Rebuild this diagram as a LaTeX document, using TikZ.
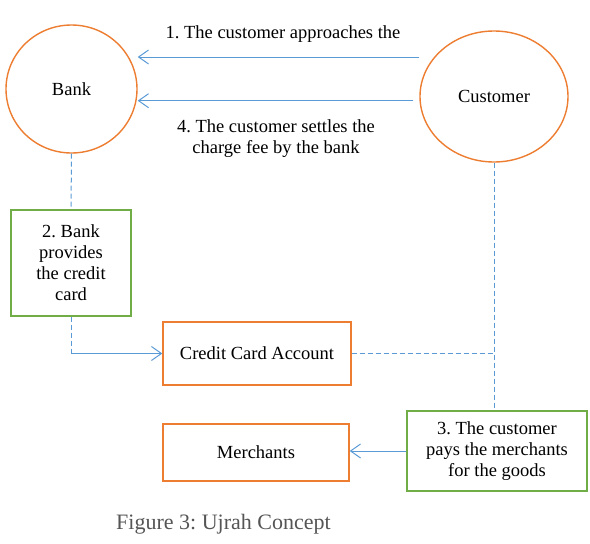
\documentclass[tikz,border=0pt]{standalone}
\usepackage{fontspec}
\setmainfont{Liberation Serif}
\usetikzlibrary{shapes.geometric,arrows.meta}
\definecolor{orng}{HTML}{ED7D31}
\definecolor{grn}{HTML}{70AD47}
\definecolor{blu}{HTML}{5B9BD5}
\definecolor{capgray}{HTML}{555555}
\frenchspacing
\tikzset{
  every node/.style={font=\fontsize{18.5}{21}\selectfont, text=black},
  ent/.style={draw=orng, line width=1.4pt, ellipse, inner sep=0pt},
  obox/.style={draw=orng, line width=1.4pt, rectangle, inner sep=0pt},
  gbox/.style={draw=grn, line width=1.4pt, rectangle, inner sep=0pt, align=center},
  flow/.style={draw=blu, line width=1pt, -{Straight Barb[length=10pt,width=14pt,line width=1pt]}},
  link/.style={draw=blu, line width=1pt, dash pattern=on 5pt off 3pt},
  lbl/.style={align=center, inner sep=0pt}
}
\begin{document}
\begin{tikzpicture}[x=1pt,y=-1pt]
\useasboundingbox (0,0) rectangle (590,544);
\node[ent, minimum width=131, minimum height=128] (bank) at (71.5,89) {Bank};
\node[ent, minimum width=148, minimum height=131] (cust) at (494,96.5) {Customer};
\node[gbox, minimum width=120, minimum height=106] (b2) at (71,263) {2. Bank\\provides\\the credit\\card};
\node[obox, minimum width=188, minimum height=63] (cca) at (257,353.5) {Credit Card Account};
\node[obox, minimum width=186, minimum height=57] (mer) at (256,452.5) {Merchants};
\node[gbox, minimum width=180, minimum height=80] (b3) at (497,451) {3. The customer\\pays the merchants\\for the goods};
\node[lbl] (l1) at (283,34) {1. The customer approaches the};
\node[lbl] (l4) at (276,139) {4. The customer settles the\\charge fee by the bank};
\node[lbl, text=capgray, font=\fontsize{22}{26}\selectfont, anchor=west] (cap) at (116,524) {Figure 3: Ujrah Concept};
\coordinate (a1s) at ([yshift=39.5pt]cust.west);
\coordinate (a4s) at ([xshift=-6pt,yshift=-4.2pt]cust.west);
\draw[flow] (a1s) -- (bank.east |- a1s);
\draw[flow] (a4s) -- (bank.east |- a4s);
\draw[link] (bank.south) -- (b2.north);
\coordinate (corner) at (b2.south |- cca.west);
\draw[link] (b2.south) -- (corner);
\draw[flow] (corner) -- (cca.west);
\coordinate (junc) at (cust.south |- cca.east);
\draw[link] (cca.east) -- (junc);
\draw[link] (cust.south) -- (cust.south |- b3.north);
\draw[flow] (b3.west) -- (mer.east |- b3.west);
\end{tikzpicture}
\end{document}
